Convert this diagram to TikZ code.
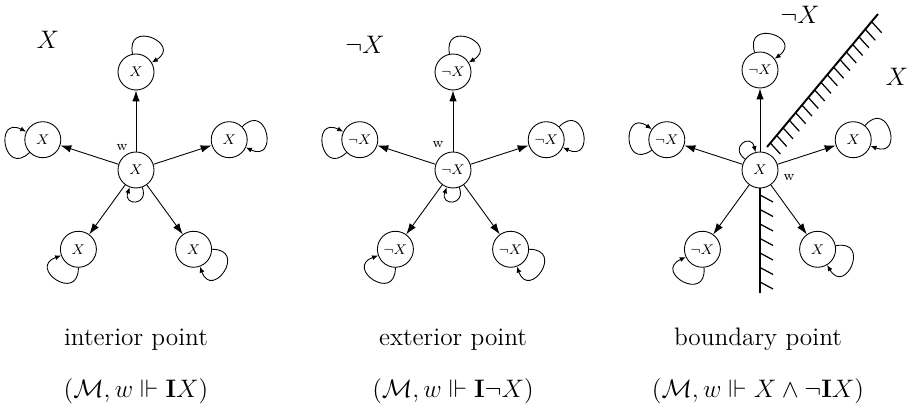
\documentclass[tikz,border=0pt]{standalone}
\usepackage{amsmath,amssymb}
\usetikzlibrary{arrows.meta,calc}
\tikzset{
  topo world/.style={draw, circle, line width=0.5pt, fill=white,
    minimum size=7.2mm, inner sep=0pt, font=\footnotesize},
  topo arrow/.style={-{Latex[length=2.2mm,width=1.5mm]}, line width=0.5pt},
  topo loop/.style={-{Latex[length=1.2mm,width=1mm]}, line width=0.5pt,
    distance=7.2mm},
  topo small loop/.style={topo loop, distance=4mm},
  topo wall/.style={line width=1.1pt},
  topo hatch/.style={line width=0.7pt},
  topo region/.style={font=\Large},
  topo tag/.style={font=\footnotesize, inner sep=0pt},
  topo caption/.style={font=\Large, anchor=base}
}

\begin{document}
\begin{tikzpicture}[x=0.02cm,y=0.02cm]
  \useasboundingbox (0,0) rectangle (911,411);

  % interior point
  \begin{scope}[shift={(136,241)}]
    \node[topo world] (mid1) at (0,0) {$X$};
    \node[topo world] (up1) at (90:98) {$X$};
    \node[topo world] (lft1) at (162:98) {$X$};
    \node[topo world] (rgt1) at (18:98) {$X$};
    \node[topo world] (dl1) at (234:98) {$X$};
    \node[topo world] (dr1) at (306:98) {$X$};
    \node[topo tag] (tag1) at (-14,22) {w};
  \end{scope}
  \foreach \s in {up1,lft1,rgt1,dl1,dr1}
    \draw[topo arrow] (mid1) -- (\s);
  \draw[topo loop] (up1) to[out=101,in=31] (up1);
  \draw[topo loop] (lft1) to[out=224,in=154] (lft1);
  \draw[topo loop] (rgt1) to[out=45,in=-25] (rgt1);
  \draw[topo loop] (dl1) to[out=270,in=200] (dl1);
  \draw[topo loop] (dr1) to[out=0,in=290] (dr1);
  \draw[topo small loop] (mid1) to[out=290,in=250] (mid1);

  % exterior point
  \begin{scope}[shift={(453,241)}]
    \node[topo world] (mid2) at (0,0) {$\neg X$};
    \node[topo world] (up2) at (90:98) {$\neg X$};
    \node[topo world] (lft2) at (162:98) {$\neg X$};
    \node[topo world] (rgt2) at (18:98) {$\neg X$};
    \node[topo world] (dl2) at (234:98) {$\neg X$};
    \node[topo world] (dr2) at (306:98) {$\neg X$};
    \node[topo tag] (tag2) at (-15,25) {w};
  \end{scope}
  \foreach \s in {up2,lft2,rgt2,dl2,dr2}
    \draw[topo arrow] (mid2) -- (\s);
  \draw[topo loop] (up2) to[out=101,in=31] (up2);
  \draw[topo loop] (lft2) to[out=224,in=154] (lft2);
  \draw[topo loop] (rgt2) to[out=45,in=-25] (rgt2);
  \draw[topo loop] (dl2) to[out=270,in=200] (dl2);
  \draw[topo loop] (dr2) to[out=0,in=290] (dr2);
  \draw[topo small loop] (mid2) to[out=290,in=250] (mid2);

  % boundary point
  \coordinate (wallv) at (760,118);
  \coordinate (walld1) at (767,264);
  \coordinate (walld2) at (878,397);
  \draw[topo wall] (760,241) -- (wallv);
  \foreach \k in {0,...,6}
    \draw[topo hatch] (760,{216-14.5*\k}) -- ++(13,-7);
  \draw[topo wall] (walld1) -- (walld2);
  \foreach \k in {0,...,16}
    \draw[topo hatch] ($(walld1)!{0.03+0.057*\k}!(walld2)$) -- ++(10,-11);
  \begin{scope}[shift={(760,241)}]
    \node[topo world] (mid3) at (0,0) {$X$};
    \node[topo world] (up3) at (90:100) {$\neg X$};
    \node[topo world] (lft3) at (162:98) {$\neg X$};
    \node[topo world] (rgt3) at (18:98) {$X$};
    \node[topo world] (dl3) at (234:98) {$\neg X$};
    \node[topo world] (dr3) at (306:98) {$X$};
    \node[topo tag] (tag3) at (29,-8) {w};
  \end{scope}
  \foreach \s in {up3,lft3,rgt3,dl3,dr3}
    \draw[topo arrow] (mid3) -- (\s);
  \draw[topo loop] (up3) to[out=107,in=37] (up3);
  \draw[topo loop] (lft3) to[out=215,in=145] (lft3);
  \draw[topo loop] (rgt3) to[out=50,in=-20] (rgt3);
  \draw[topo loop] (dl3) to[out=275,in=205] (dl3);
  \draw[topo loop] (dr3) to[out=11,in=301] (dr3);
  \draw[topo small loop] (mid3) to[out=144,in=104] (mid3);

  % regions
  \node[topo region] (reg1) at (48,371) {$X$};
  \node[topo region] (reg2) at (365,366) {$\neg X$};
  \node[topo region] (reg3a) at (800,396) {$\neg X$};
  \node[topo region] (reg3b) at (897,334) {$X$};

  % captions
  \node[topo caption] (cap1) at (136,65) {interior point};
  \node[topo caption] (cap2) at (453,65) {exterior point};
  \node[topo caption] (cap3) at (758,65) {boundary point};
  \node[topo caption] (frm1) at (136,13) {$(\mathcal{M},w\Vdash\mathbf{I}X)$};
  \node[topo caption] (frm2) at (453,13) {$(\mathcal{M},w\Vdash\mathbf{I}\neg X)$};
  \node[topo caption] (frm3) at (758,13) {$(\mathcal{M},w\Vdash X\land\neg\mathbf{I}X)$};
\end{tikzpicture}
\end{document}
